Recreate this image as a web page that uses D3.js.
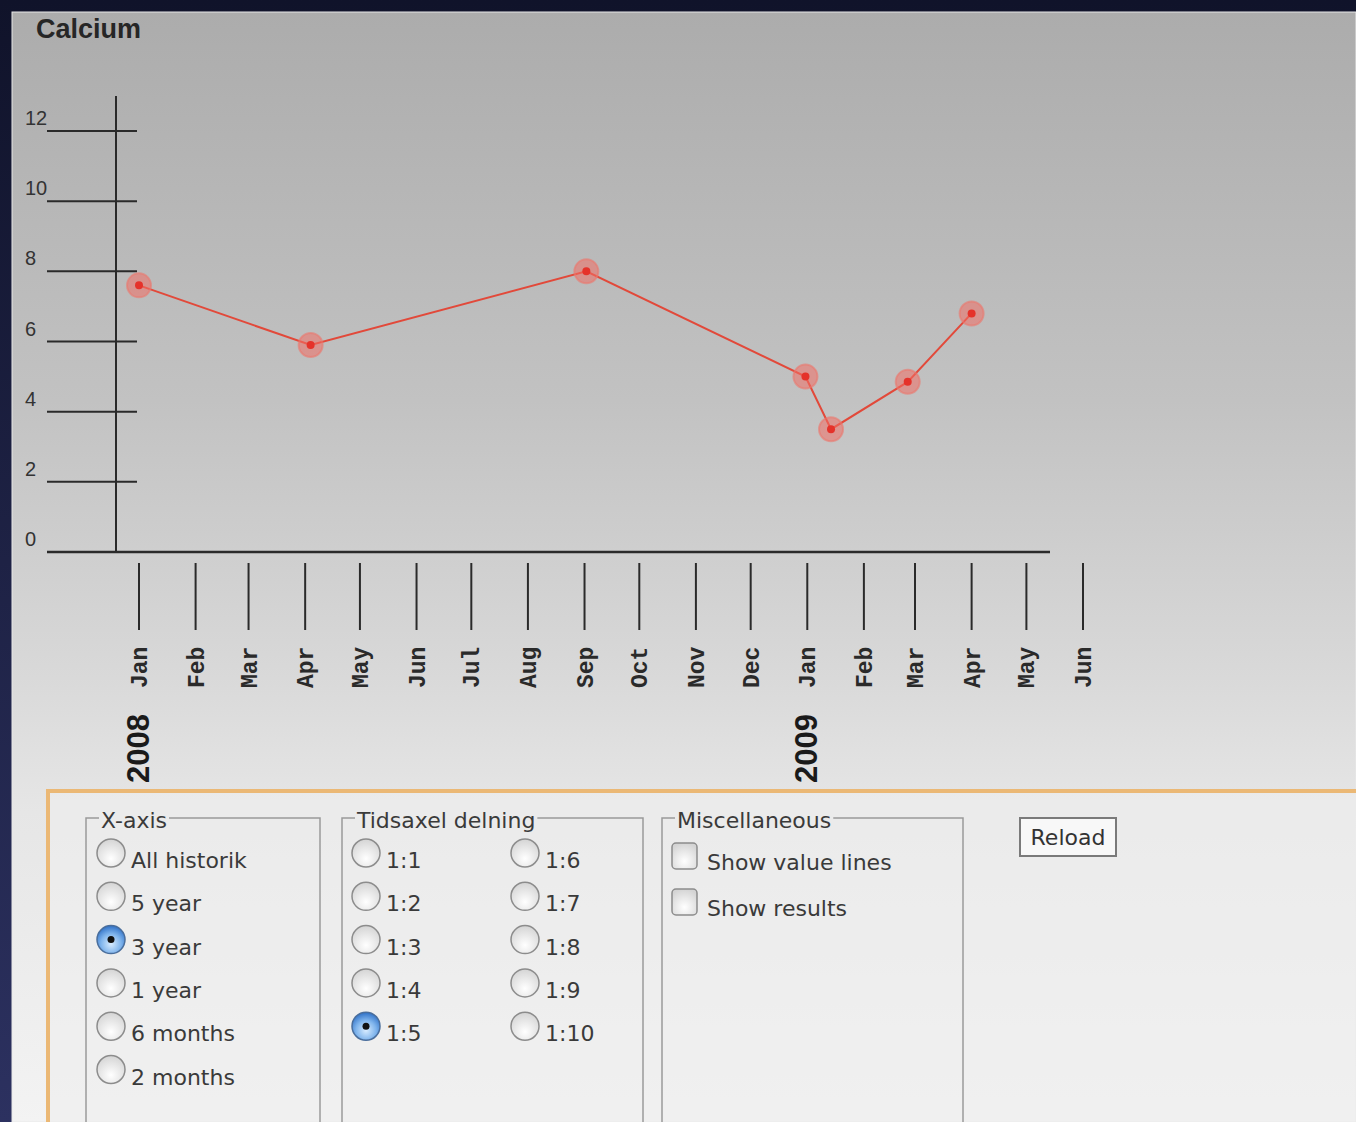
<!doctype html>
<html lang="en">
<head>
<meta charset="utf-8">
<title>Calcium</title>
<script src="https://cdn.jsdelivr.net/npm/d3@7"></script>
<style>
  body { margin: 0; background: #1b1f3b; }
  svg { display: block; }
</style>
</head>
<body>
<script>
// data
var sampleDates = ["2008-01-01", "2008-04-04", "2008-09-02", "2008-12-31", "2009-01-14", "2009-02-25", "2009-04-01"];
var sampleValues = [7.6, 5.9, 8.0, 5.0, 3.5, 4.85, 6.8];
var yTicks = [0, 2, 4, 6, 8, 10, 12];
var yearLabels = ["2008", "2009"];
var xAxisOptions = ["All historik", "5 year", "3 year", "1 year", "6 months", "2 months"];
var divisionOptions = ["1:1", "1:2", "1:3", "1:4", "1:5", "1:6", "1:7", "1:8", "1:9", "1:10"];
var miscOptions = ["Show value lines", "Show results"];

var W = 1356, H = 1122;
var parseDate = d3.timeParse("%Y-%m-%d");
var data = sampleDates.map((d, i) => ({date: parseDate(d), value: sampleValues[i]}));

var svg = d3.select("body").append("svg")
    .attr("width", W)
    .attr("height", H);

var defs = svg.append("defs");
var bg = defs.append("linearGradient").attr("id", "bg").attr("x1", 0).attr("x2", 0).attr("y1", 0).attr("y2", 1);
bg.append("stop").attr("offset", "0%").attr("stop-color", "#acacac");
bg.append("stop").attr("offset", "35%").attr("stop-color", "#c2c2c2");
bg.append("stop").attr("offset", "60%").attr("stop-color", "#d9d9d9");
bg.append("stop").attr("offset", "72%").attr("stop-color", "#e6e6e6");
bg.append("stop").attr("offset", "100%").attr("stop-color", "#f3f3f3");

var frame = defs.append("linearGradient").attr("id", "frame").attr("x1", 0).attr("x2", 0).attr("y1", 0).attr("y2", 1);
frame.append("stop").attr("offset", "0%").attr("stop-color", "#10132a");
frame.append("stop").attr("offset", "100%").attr("stop-color", "#2c3160");

var radioOff = defs.append("radialGradient").attr("id", "radioOff").attr("cx", "50%").attr("cy", "70%").attr("r", "70%");
radioOff.append("stop").attr("offset", "0%").attr("stop-color", "#ffffff");
radioOff.append("stop").attr("offset", "100%").attr("stop-color", "#d4d4d4");

var radioOn = defs.append("radialGradient").attr("id", "radioOn").attr("cx", "50%").attr("cy", "65%").attr("r", "65%");
radioOn.append("stop").attr("offset", "0%").attr("stop-color", "#d8ecff");
radioOn.append("stop").attr("offset", "55%").attr("stop-color", "#7fb4ec");
radioOn.append("stop").attr("offset", "100%").attr("stop-color", "#2d6fc6");

svg.append("rect").attr("width", W).attr("height", H).attr("fill", "url(#frame)");
svg.append("rect")
    .attr("x", 12).attr("y", 12)
    .attr("width", W - 12).attr("height", H - 12)
    .attr("fill", "url(#bg)")
    .attr("stroke", "#e8e8e8").attr("stroke-width", 1);

// title
svg.append("text")
    .attr("x", 36).attr("y", 38)
    .attr("font-family", "Liberation Sans, Arial, sans-serif")
    .attr("font-weight", "bold")
    .attr("font-size", "27px")
    .attr("fill", "#262626")
    .text("Calcium");

// scales
var xScale = d3.scaleTime()
    .domain([parseDate("2008-01-01"), parseDate("2009-06-01")])
    .range([139, 1083]);

var yScale = d3.scaleLinear()
    .domain([0, 12])
    .range([552, 131]);

// y axis
svg.append("line")
    .attr("x1", 116).attr("x2", 116)
    .attr("y1", 96).attr("y2", yScale(0))
    .attr("stroke", "#2a2a2a").attr("stroke-width", 2);

svg.selectAll(".ytick")
   .data(yTicks.filter(d => d > 0))
   .enter()
   .append("line")
   .attr("class", "ytick")
   .attr("x1", 47).attr("x2", 137)
   .attr("y1", d => yScale(d)).attr("y2", d => yScale(d))
   .attr("stroke", "#2a2a2a").attr("stroke-width", 2);

svg.selectAll(".ylabel")
   .data(yTicks)
   .enter()
   .append("text")
   .attr("class", "ylabel")
   .attr("x", 25)
   .attr("y", d => yScale(d) - 6)
   .attr("font-family", "Liberation Sans, Arial, sans-serif")
   .attr("font-size", "20px")
   .attr("fill", "#333")
   .text(d => d);

// x axis baseline
svg.append("line")
    .attr("x1", 47).attr("x2", 1050)
    .attr("y1", yScale(0)).attr("y2", yScale(0))
    .attr("stroke", "#2a2a2a").attr("stroke-width", 2.5);

var months = d3.timeMonth.range(parseDate("2008-01-01"), parseDate("2009-07-01"));
var fmtMonth = d3.timeFormat("%b");

svg.selectAll(".xtick")
   .data(months)
   .enter()
   .append("line")
   .attr("class", "xtick")
   .attr("x1", d => xScale(d)).attr("x2", d => xScale(d))
   .attr("y1", 563).attr("y2", 630)
   .attr("stroke", "#2a2a2a").attr("stroke-width", 2);

svg.selectAll(".xlabel")
   .data(months)
   .enter()
   .append("text")
   .attr("class", "xlabel")
   .attr("transform", d => "translate(" + (xScale(d) + 8) + ",688) rotate(-90)")
   .attr("font-family", "Liberation Mono, Courier New, monospace")
   .attr("font-weight", "bold")
   .attr("font-size", "23px")
   .attr("fill", "#2a2a2a")
   .text(d => fmtMonth(d));

svg.selectAll(".year")
   .data(yearLabels)
   .enter()
   .append("text")
   .attr("class", "year")
   .attr("transform", d => "translate(" + (xScale(parseDate(d + "-01-01")) + 10) + ",783) rotate(-90)")
   .attr("font-family", "Liberation Sans, Arial, sans-serif")
   .attr("font-weight", "bold")
   .attr("font-size", "31px")
   .attr("fill", "#1a1a1a")
   .text(d => d);

// series
var line = d3.line()
    .x(d => xScale(d.date))
    .y(d => yScale(d.value));

svg.append("path")
    .datum(data)
    .attr("d", line)
    .attr("fill", "none")
    .attr("stroke", "#e2493a")
    .attr("stroke-width", 2);

svg.selectAll(".halo")
   .data(data)
   .enter()
   .append("circle")
   .attr("class", "halo")
   .attr("cx", d => xScale(d.date))
   .attr("cy", d => yScale(d.value))
   .attr("r", 12)
   .attr("fill", "rgba(240,110,100,0.55)")
   .attr("stroke", "rgba(235,120,110,0.6)")
   .attr("stroke-width", 2);

svg.selectAll(".dot")
   .data(data)
   .enter()
   .append("circle")
   .attr("class", "dot")
   .attr("cx", d => xScale(d.date))
   .attr("cy", d => yScale(d.value))
   .attr("r", 4)
   .attr("fill", "#e5322a");

// settings panel
svg.append("rect")
    .attr("x", 48).attr("y", 791)
    .attr("width", W - 48).attr("height", H - 791)
    .attr("fill", "#eeeeee").attr("opacity", 0.6);
svg.append("path")
    .attr("d", "M" + W + ",791 H48 V" + (H + 5))
    .attr("fill", "none")
    .attr("stroke", "#ebb875").attr("stroke-width", 4);

var uiFont = "DejaVu Sans, Verdana, sans-serif";

function fieldset(x, w, title) {
    var g = svg.append("g");
    var t = g.append("text")
        .attr("x", x + 15).attr("y", 828)
        .attr("font-family", uiFont)
        .attr("font-size", "22px")
        .attr("fill", "#3a3a3a")
        .text(title);
    var tw = t.node().getComputedTextLength();
    g.insert("path", "text")
        .attr("d", "M" + (x + 13) + ",818 H" + x + " V" + (H + 5) +
                   " M" + (x + 17 + tw) + ",818 H" + (x + w) + " V" + (H + 5))
        .attr("fill", "none")
        .attr("stroke", "#9a9a9a").attr("stroke-width", 1.5);
}

fieldset(86, 234, "X-axis");
fieldset(342, 301, "Tidsaxel delning");
fieldset(662, 301, "Miscellaneous");

function radio(cx, cy, label, on) {
    svg.append("circle")
        .attr("cx", cx).attr("cy", cy).attr("r", 14)
        .attr("fill", on ? "url(#radioOn)" : "url(#radioOff)")
        .attr("stroke", on ? "#4a6e9c" : "#8c8c8c").attr("stroke-width", 1.5);
    if (on) {
        svg.append("circle").attr("cx", cx).attr("cy", cy).attr("r", 3.5).attr("fill", "#111");
    }
    svg.append("text")
        .attr("x", cx + 20).attr("y", cy + 15)
        .attr("font-family", uiFont)
        .attr("font-size", "22px")
        .attr("fill", "#3a3a3a")
        .text(label);
}

xAxisOptions.forEach((d, i) => radio(111, 853 + i * 43.3, d, d == "3 year"));
divisionOptions.forEach((d, i) => radio(i < 5 ? 366 : 525, 853 + (i % 5) * 43.3, d, d == "1:5"));

miscOptions.forEach((d, i) => {
    var y = 843 + i * 46;
    svg.append("rect")
        .attr("x", 672).attr("y", y)
        .attr("width", 25).attr("height", 26).attr("rx", 4)
        .attr("fill", "url(#radioOff)")
        .attr("stroke", "#8c8c8c").attr("stroke-width", 1.5);
    svg.append("text")
        .attr("x", 707).attr("y", y + 27)
        .attr("font-family", uiFont)
        .attr("font-size", "22px")
        .attr("fill", "#3a3a3a")
        .text(d);
});

// reload button
svg.append("rect")
    .attr("x", 1020).attr("y", 818)
    .attr("width", 96).attr("height", 38)
    .attr("fill", "#f8f8f8")
    .attr("stroke", "#7a7a7a").attr("stroke-width", 2);
svg.append("text")
    .attr("x", 1068).attr("y", 845)
    .attr("text-anchor", "middle")
    .attr("font-family", uiFont)
    .attr("font-size", "22px")
    .attr("fill", "#333")
    .text("Reload");
</script>
</body>
</html>
